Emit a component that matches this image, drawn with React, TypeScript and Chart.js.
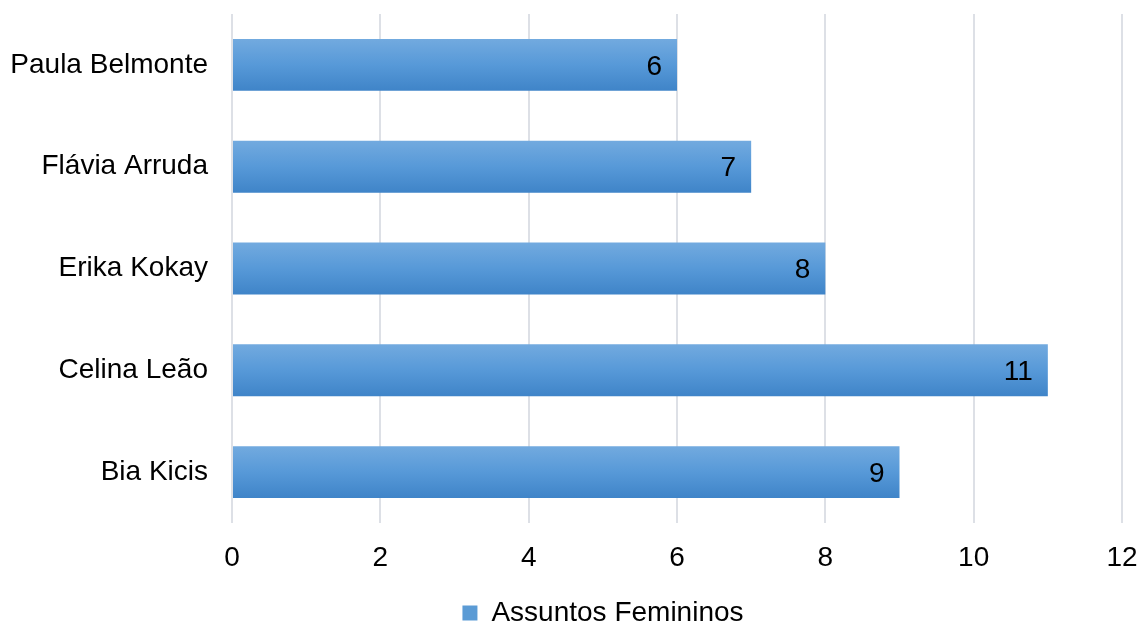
import React, { useEffect, useRef } from "react";
import { Chart, registerables } from "chart.js";

Chart.register(...registerables);

const categories = ["Paula Belmonte", "Flávia Arruda", "Erika Kokay", "Celina Leão", "Bia Kicis"];
const values = [6, 7, 8, 11, 9];
const seriesName = "Assuntos Femininos";
const xTicks = [0, 2, 4, 6, 8, 10, 12];

const FONT = "'Liberation Sans', Arial, sans-serif";
const FS = 28;

const labelPlugin = {
  id: "barValueLabels",
  afterDatasetsDraw(chart: any) {
    const ctx = chart.ctx;
    const meta = chart.getDatasetMeta(0);
    ctx.save();
    ctx.font = `${FS}px ${FONT}`;
    ctx.fillStyle = "#000000";
    ctx.textAlign = "right";
    ctx.textBaseline = "middle";
    meta.data.forEach((el: any, i: number) => {
      ctx.fillText(String(values[i]), el.x - 15, el.y + 2);
    });
    ctx.restore();
  },
};

const legendShift = {
  id: "legendShift",
  afterLayout(chart: any) {
    if (chart.legend) {
      chart.legend.left += 42;
      chart.legend.right += 42;
    }
  },
};

export default function App() {
  const ref = useRef<HTMLCanvasElement | null>(null);
  useEffect(() => {
    if (!ref.current) return;
    const chart = new Chart(ref.current, {
      type: "bar",
      data: {
        labels: categories,
        datasets: [
          {
            label: seriesName,
            data: values,
            barPercentage: 0.51,
            categoryPercentage: 1,
            backgroundColor: (c: any) => {
              const ch = c.chart;
              const ys = ch.scales && ch.scales.y;
              if (!ys || c.dataIndex === undefined) return "#5b9bd5";
              const yc = ys.getPixelForValue(c.dataIndex);
              const half = 26;
              const g = ch.ctx.createLinearGradient(0, yc - half, 0, yc + half);
              g.addColorStop(0, "#72aadf");
              g.addColorStop(0.5, "#5799d8");
              g.addColorStop(1, "#3f84c8");
              return g;
            },
            borderWidth: 0,
          },
        ],
      },
      options: {
        indexAxis: "y",
        animation: false,
        responsive: true,
        maintainAspectRatio: false,
        layout: { padding: { top: 14, left: 0, right: 21, bottom: -14 } },
        scales: {
          x: {
            min: 0,
            max: 12,
            afterBuildTicks: (axis: any) => {
              axis.ticks = xTicks.map((v) => ({ value: v }));
            },
            afterFit: (axis: any) => {
              axis.height = 66;
              axis.paddingLeft = 0;
              axis.paddingRight = 0;
            },
            grid: { color: "#dde0e6", lineWidth: 2, drawTicks: false },
            border: { display: false },
            ticks: { color: "#000", font: { family: FONT, size: FS }, padding: 18 },
          },
          y: {
            afterFit: (axis: any) => {
              axis.width = 232;
              axis.paddingTop = 0;
              axis.paddingBottom = 0;
            },
            grid: { display: false, drawTicks: false },
            border: { display: false },
            ticks: { color: "#000", font: { family: FONT, size: FS }, padding: 24 },
          },
        },
        plugins: {
          tooltip: { enabled: false },
          legend: {
            position: "bottom",
            labels: {
              color: "#000",
              font: { family: FONT, size: FS },
              boxWidth: 15,
              boxHeight: 15,
              padding: 10,
              generateLabels: () => [
                {
                  text: seriesName,
                  fillStyle: "#5b9bd5",
                  strokeStyle: "#5b9bd5",
                  lineWidth: 0,
                  datasetIndex: 0,
                  hidden: false,
                },
              ],
            },
          },
        },
      },
      plugins: [labelPlugin, legendShift],
    } as any);
    return () => chart.destroy();
  }, []);
  return (
    <div style={{ position: "fixed", left: 0, top: 0, width: 1143, height: 623, background: "#fff" }}>
      <canvas ref={ref} />
    </div>
  );
}
